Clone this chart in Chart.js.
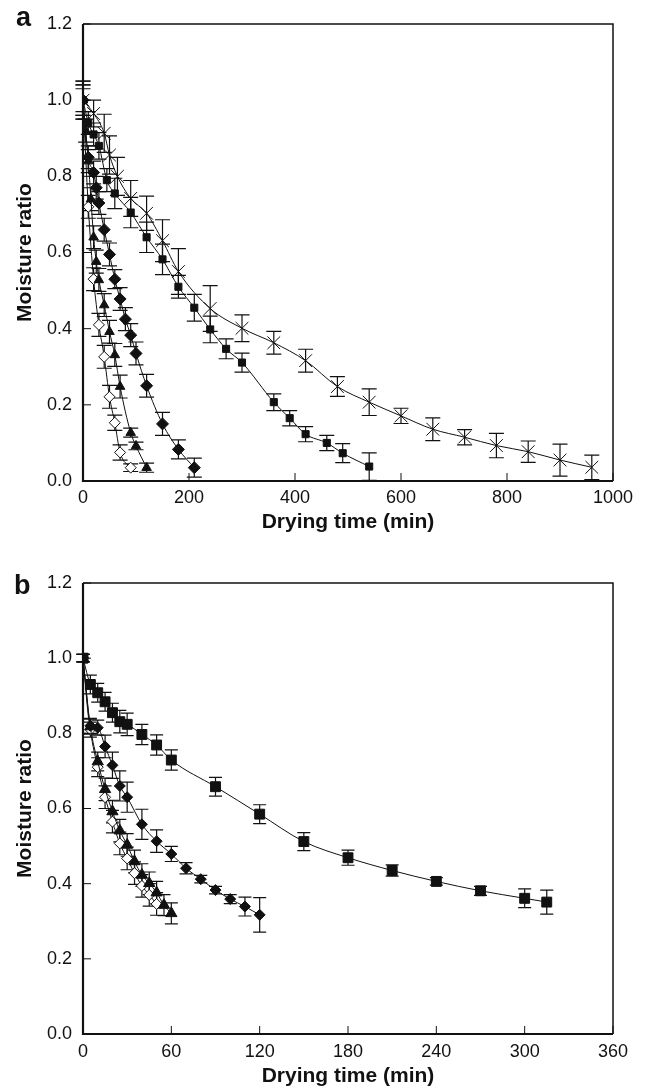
<!DOCTYPE html>
<html>
<head>
<meta charset="utf-8">
<script src="https://cdn.jsdelivr.net/npm/chart.js@4.4.0/dist/chart.umd.min.js"></script>
<style>
  html, body { margin: 0; padding: 0; background: #fff; }
  body { width: 645px; height: 1091px; position: relative; overflow: hidden; font-family: "Liberation Sans", Arial, sans-serif; }
  canvas { position: absolute; left: 0; }
  .letter { position: absolute; font-weight: bold; font-size: 27px; line-height: 27px; color: #111; }
</style>
</head>
<body>
<canvas id="chartA" width="645" height="545" style="top:0"></canvas>
<canvas id="chartB" width="645" height="546" style="top:545px"></canvas>
<div class="letter" style="left:16px;top:4px">a</div>
<div class="letter" style="left:14px;top:572px">b</div>
<script>
// ---- panel a ----
const timeCrossA = [0, 20, 40, 50, 65, 90, 120, 150, 180, 240, 300, 360, 420, 480, 540, 600, 660, 720, 780, 840, 900, 960];
const mrCrossA = [1.0, 0.965, 0.913, 0.856, 0.80, 0.742, 0.703, 0.631, 0.55, 0.453, 0.401, 0.363, 0.316, 0.248, 0.207, 0.171, 0.136, 0.115, 0.093, 0.077, 0.055, 0.036];
const errCrossA = [0.05, 0.035, 0.05, 0.05, 0.05, 0.047, 0.045, 0.055, 0.06, 0.06, 0.035, 0.03, 0.03, 0.026, 0.035, 0.02, 0.03, 0.02, 0.032, 0.028, 0.042, 0.032];

const timeSqA = [0, 10, 20, 30, 45, 60, 90, 120, 150, 180, 210, 240, 270, 300, 360, 390, 420, 460, 490, 540];
const mrSqA = [1.0, 0.94, 0.91, 0.88, 0.79, 0.755, 0.705, 0.64, 0.582, 0.51, 0.455, 0.398, 0.347, 0.311, 0.207, 0.165, 0.123, 0.10, 0.073, 0.038];
const errSqA = [0.03, 0.03, 0.03, 0.035, 0.03, 0.04, 0.04, 0.04, 0.04, 0.03, 0.035, 0.035, 0.026, 0.025, 0.022, 0.02, 0.02, 0.02, 0.025, 0.036];

const timeDiA = [0, 10, 20, 25, 30, 40, 50, 60, 70, 80, 90, 100, 120, 150, 180, 210];
const mrDiA = [1.0, 0.85, 0.81, 0.77, 0.73, 0.66, 0.595, 0.53, 0.478, 0.425, 0.383, 0.335, 0.25, 0.15, 0.083, 0.035];
const errDiA = [0.05, 0.03, 0.03, 0.03, 0.03, 0.03, 0.03, 0.025, 0.03, 0.03, 0.03, 0.03, 0.03, 0.03, 0.025, 0.025];

const timeTrA = [0, 5, 10, 15, 20, 25, 30, 40, 50, 60, 70, 90, 100, 120];
const mrTrA = [1.0, 0.92, 0.84, 0.74, 0.64, 0.576, 0.528, 0.462, 0.392, 0.331, 0.248, 0.127, 0.092, 0.035];
const errTrA = [0.04, 0.03, 0.03, 0.03, 0.03, 0.03, 0.03, 0.03, 0.03, 0.03, 0.03, 0.012, 0.01, 0.012];

const timeOdA = [0, 10, 20, 30, 40, 50, 60, 70, 90];
const mrOdA = [1.0, 0.72, 0.53, 0.41, 0.326, 0.221, 0.153, 0.075, 0.035];
const errOdA = [0.04, 0.03, 0.03, 0.03, 0.03, 0.03, 0.02, 0.02, 0.01];

// ---- panel b ----
const timeSqB = [0, 5, 10, 15, 20, 25, 30, 40, 50, 60, 90, 120, 150, 180, 210, 240, 270, 300, 315];
const mrSqB = [1.0, 0.93, 0.908, 0.884, 0.855, 0.831, 0.824, 0.797, 0.769, 0.729, 0.658, 0.585, 0.512, 0.469, 0.435, 0.406, 0.381, 0.361, 0.351];
const errSqB = [0.01, 0.025, 0.025, 0.025, 0.025, 0.03, 0.03, 0.027, 0.027, 0.027, 0.025, 0.025, 0.024, 0.02, 0.015, 0.01, 0.012, 0.025, 0.032];

const timeDiB = [0, 5, 10, 15, 20, 25, 30, 40, 50, 60, 70, 80, 90, 100, 110, 120];
const mrDiB = [1.0, 0.82, 0.815, 0.765, 0.715, 0.66, 0.63, 0.558, 0.513, 0.479, 0.441, 0.412, 0.383, 0.359, 0.339, 0.317];
const errDiB = [0.01, 0.02, 0.02, 0.03, 0.035, 0.04, 0.04, 0.04, 0.03, 0.02, 0.015, 0.01, 0.01, 0.012, 0.025, 0.046];

const timeTrB = [0, 5, 10, 15, 20, 25, 30, 35, 40, 45, 50, 55, 60];
const mrTrB = [1.0, 0.818, 0.725, 0.651, 0.592, 0.541, 0.503, 0.459, 0.423, 0.401, 0.376, 0.343, 0.321];
const errTrB = [0.01, 0.02, 0.025, 0.03, 0.03, 0.03, 0.03, 0.03, 0.03, 0.03, 0.03, 0.028, 0.028];

const timeOdB = [0, 5, 10, 15, 20, 25, 30, 35, 40, 45, 50];
const mrOdB = [1.0, 0.81, 0.71, 0.63, 0.565, 0.507, 0.467, 0.428, 0.394, 0.37, 0.346];
const errOdB = [0.01, 0.02, 0.025, 0.03, 0.03, 0.03, 0.03, 0.03, 0.03, 0.03, 0.03];

const INK = '#111';
Chart.defaults.font.family = '"Liberation Sans", Arial, sans-serif';
Chart.defaults.color = INK;

function series(times, values, errors, style, radius, open) {
    return {
        data: times.map((t, i) => ({ x: t, y: values[i] })),
        errors: errors,
        showLine: true,
        borderColor: INK,
        borderWidth: 1,
        tension: 0.4,
        cubicInterpolationMode: 'monotone',
        pointStyle: style,
        pointRadius: radius,
        pointBorderWidth: 1,
        pointBorderColor: INK,
        pointBackgroundColor: open ? '#fff' : INK
    };
}

// vertical error bars with caps, drawn through the y scale
const errorBars = {
    id: 'errorBars',
    beforeDatasetsDraw(chart, args, opts) {
        const ctx = chart.ctx;
        const ys = chart.scales.y;
        const cap = opts.cap || 7;
        ctx.save();
        ctx.strokeStyle = INK;
        ctx.lineWidth = 1.2;
        chart.data.datasets.forEach((ds, i) => {
            if (!ds.errors) return;
            chart.getDatasetMeta(i).data.forEach((pt, j) => {
                const v = ds.data[j].y, e = ds.errors[j];
                const top = ys.getPixelForValue(v + e);
                const bot = ys.getPixelForValue(Math.max(0, v - e));
                ctx.beginPath();
                ctx.moveTo(pt.x, top); ctx.lineTo(pt.x, bot);
                ctx.moveTo(pt.x - cap, top); ctx.lineTo(pt.x + cap, top);
                ctx.moveTo(pt.x - cap, bot); ctx.lineTo(pt.x + cap, bot);
                ctx.stroke();
            });
        });
        ctx.restore();
    }
};

// box frame and inward tick marks
const frame = {
    id: 'frame',
    afterDraw(chart) {
        const ctx = chart.ctx;
        const { left, right, top, bottom } = chart.chartArea;
        const xs = chart.scales.x, ys = chart.scales.y;
        ctx.save();
        ctx.strokeStyle = INK;
        ctx.lineWidth = 1;
        ctx.beginPath();
        xs.ticks.forEach(t => {
            const px = xs.getPixelForValue(t.value);
            ctx.moveTo(px, bottom); ctx.lineTo(px, bottom - 8);
        });
        ys.ticks.forEach(t => {
            const py = ys.getPixelForValue(t.value);
            ctx.moveTo(left, py); ctx.lineTo(left + 8, py);
        });
        ctx.stroke();
        ctx.lineWidth = 1.5;
        ctx.beginPath();
        ctx.moveTo(left, top); ctx.lineTo(right, top); ctx.lineTo(right, bottom);
        ctx.stroke();
        ctx.lineWidth = 2.2;
        ctx.beginPath();
        ctx.moveTo(left, top); ctx.lineTo(left, bottom); ctx.lineTo(right, bottom);
        ctx.stroke();
        ctx.restore();
    }
};

function makeChart(id, datasets, xMax, xStep, padTop, xAxisH, titlePad, tickPad, cap) {
    return new Chart(document.getElementById(id), {
        type: 'scatter',
        data: { datasets },
        plugins: [errorBars, frame],
        options: {
            responsive: false,
            devicePixelRatio: 1,
            animation: false,
            layout: { padding: { top: padTop, right: 32, left: 0, bottom: 0 } },
            plugins: {
                legend: { display: false },
                tooltip: { enabled: false },
                errorBars: { cap: cap }
            },
            scales: {
                x: {
                    type: 'linear',
                    min: 0,
                    max: xMax,
                    afterFit(s) { s.height = xAxisH; },
                    grid: { display: false, drawTicks: false },
                    border: { display: false },
                    ticks: { stepSize: xStep, padding: tickPad, color: INK, font: { size: 18 }, callback: v => String(v) },
                    title: {
                        display: true,
                        text: 'Drying time (min)',
                        color: INK,
                        font: { size: 21, weight: 'bold' },
                        padding: { top: 0, bottom: titlePad }
                    }
                },
                y: {
                    type: 'linear',
                    min: 0,
                    max: 1.2,
                    afterFit(s) { s.width = 83; },
                    grid: { display: false, drawTicks: false },
                    border: { display: false },
                    ticks: { stepSize: 0.2, padding: 11, color: INK, font: { size: 18 }, callback: v => v.toFixed(1) },
                    title: {
                        display: true,
                        text: 'Moisture ratio',
                        color: INK,
                        font: { size: 21, weight: 'bold' },
                        padding: { top: 13, bottom: 0 }
                    }
                }
            }
        }
    });
}

makeChart('chartA', [
    series(timeCrossA, mrCrossA, errCrossA, 'crossRot', 9, false),
    series(timeSqA, mrSqA, errSqA, 'rect', 5, false),
    series(timeDiA, mrDiA, errDiA, 'rectRot', 6, false),
    series(timeTrA, mrTrA, errTrA, 'triangle', 5.5, false),
    series(timeOdA, mrOdA, errOdA, 'rectRot', 5.5, true)
], 1000, 200, 24, 64, 10, 6, 7.5);

makeChart('chartB', [
    series(timeSqB, mrSqB, errSqB, 'rect', 7, false),
    series(timeDiB, mrDiB, errDiB, 'rectRot', 5.5, false),
    series(timeTrB, mrTrB, errTrB, 'triangle', 6.5, false),
    series(timeOdB, mrOdB, errOdB, 'rectRot', 5.5, true)
], 360, 60, 38, 57, 2.5, 7, 6.5);
</script>
</body>
</html>
